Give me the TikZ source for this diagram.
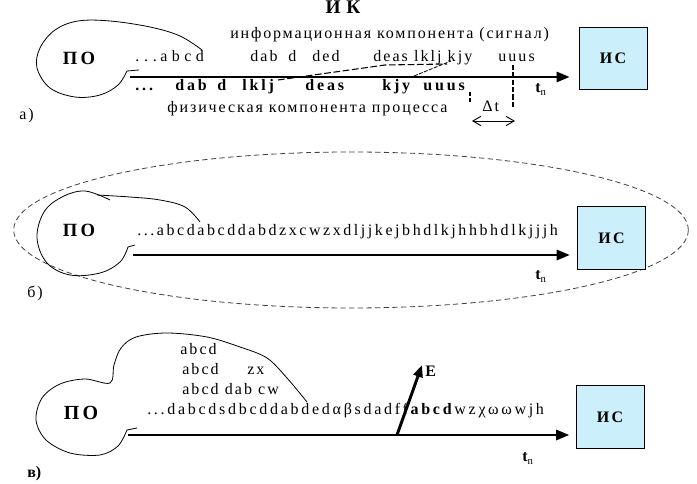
\documentclass[tikz,border=0pt]{standalone}
\usepackage{fontspec}
\setmainfont{Liberation Serif}
\usetikzlibrary{arrows.meta}
\begin{document}
\begin{tikzpicture}[x=0.75pt,y=-0.75pt,
  txt/.style={inner sep=0pt,anchor=base west,font=\fontsize{12}{14}\selectfont\addfontfeature{LetterSpace=13}},
  btxt/.style={inner sep=0pt,anchor=base west,font=\fontsize{12}{14}\bfseries\selectfont\addfontfeature{LetterSpace=18}},
  potxt/.style={inner sep=0pt,anchor=base,font=\fontsize{14}{16}\bfseries\selectfont\addfontfeature{LetterSpace=18}},
  lbl/.style={inner sep=0pt,anchor=base west,font=\fontsize{12}{14}\selectfont\addfontfeature{LetterSpace=12}},
  tn/.style={inner sep=0pt,anchor=base west,font=\fontsize{12}{14}\bfseries\selectfont},
  isbox/.style={draw=black,line width=0.75pt,fill=cyan!20,minimum width=51pt,minimum height=47pt,inner sep=0pt,
     font=\fontsize{12}{14}\bfseries\selectfont\addfontfeature{LetterSpace=15}},
  blob/.style={line width=0.6pt},
  axis/.style={line width=2.2pt,-{Triangle[length=10pt,width=7.5pt]}},
  mapline/.style={line width=0.8pt,dash pattern=on 5pt off 2pt},
  vdash/.style={line width=1.3pt,dash pattern=on 4pt off 1.5pt},
  dbl/.style={line width=0.7pt,{Straight Barb[length=6pt,width=7pt]}-{Straight Barb[length=6pt,width=7pt]}},
]
\useasboundingbox (0,0) rectangle (697,484);

% ================= a) =================
\node[potxt,font=\fontsize{14.5}{16}\bfseries\selectfont\addfontfeature{LetterSpace=30}] (IK) at (343,14) {ИК};
\node[txt,font=\fontsize{12}{14}\selectfont\addfontfeature{LetterSpace=11.5}] (info) at (230,39) {информационная компонента (сигнал)};
\node[potxt] (POa) at (79,65) {ПО};
\node[txt,font=\fontsize{12}{14}\selectfont\addfontfeature{LetterSpace=30}] (a0) at (135,62) {...};
\node[txt,font=\fontsize{12}{14}\selectfont\addfontfeature{LetterSpace=28}] (a1) at (160,62) {abcd};
\node[txt] (a2a) at (250,62) {dab};
\node[txt] (a2b) at (288,62) {d};
\node[txt] (a2c) at (312,62) {ded};
\node[txt] (a3) at (373,62) {deas lklj kjy};
\node[txt] (a4) at (498,62) {uuus};
\node[btxt] (b1) at (135,91) {...};
\node[btxt] (b2) at (175,91) {dab};
\node[btxt] (b3) at (217,91) {d};
\node[btxt] (b4) at (242,91) {lklj};
\node[btxt] (b5) at (305,91) {deas};
\node[btxt] (b6) at (382,91) {kjy};
\node[btxt] (b7) at (423,91) {uuus};
\node[txt,font=\fontsize{12}{14}\selectfont\addfontfeature{LetterSpace=12}] (phys) at (167,113) {физическая компонента процесса};
\node[tn] (tna) at (535,93) {t\raisebox{-0.35ex}{\fontsize{8}{9}\mdseries\selectfont n}};
\node[txt] (dt) at (482,112) {Δt};
\node[lbl] (la) at (19,120) {а)};
\node[isbox] (ISa) at (613,58.5) {ИС};

\draw[blob] plot[smooth,tension=0.6] coordinates {(139,70) (127,71)};
\draw[blob] plot[smooth,tension=0.6] coordinates {(127,71) (118,85) (100,95) (75,97) (50,88) (37,68) (40,48) (55,30) (78,21) (110,21) (150,27) (180,36) (202,50)};

\coordinate (sa) at (130,77);
\draw[axis,shorten >=6.5pt] (sa) -- (sa -| ISa.west);

\coordinate (m1) at (278,80);
\coordinate (m2) at (385,65);
\coordinate (m3) at (447,64);
\draw[mapline] (m1) -- (m2) -- (m3);
\coordinate (k1) at (414,76);
\coordinate (k2) at (451,61);
\draw[line width=0.6pt,dash pattern=on 3pt off 1pt] (k1) -- (k2);

\coordinate (v1) at (513,65);
\coordinate (v2) at (513,108);
\draw[vdash] (v1) -- (v2);
\coordinate (w1) at (470,92);
\coordinate (w2) at (470,104);
\draw[line width=1pt,dash pattern=on 3pt off 1.5pt] (w1) -- (w2);
\coordinate (d1) at (472,121);
\coordinate (d2) at (515,121);
\draw[dbl] (d1) -- (d2);

% ================= b) =================
\draw[line width=0.6pt,dash pattern=on 4pt off 2.5pt,black!75] (351,230) ellipse [x radius=253pt,y radius=58.5pt];
\node[potxt] (POb) at (79,237) {ПО};
\node[txt,font=\fontsize{12}{14}\selectfont\addfontfeature{LetterSpace=16}] (brow) at (137,236) {...abcdabcddabdzxcwzxdljjkejbhdlkjhhbhdlkjjjh};
\node[tn] (tnb) at (535,280) {t\raisebox{-0.35ex}{\fontsize{8}{9}\mdseries\selectfont n}};
\node[lbl] (lb) at (27,298) {б)};
\node[isbox] (ISb) at (611.5,238) {ИС};

\draw[blob] plot[smooth,tension=0.6] coordinates {(135,245) (128,247)};
\draw[blob] plot[smooth,tension=0.6] coordinates {(128,247) (120,262) (100,273) (70,275) (47,263) (37,238) (44,212) (62,197) (85,191) (110,200)};
\draw[blob] plot[smooth,tension=0.6] coordinates {(97,195) (130,197) (160,200) (185,207) (200,222)};

\coordinate (sb) at (133,255);
\draw[axis,shorten >=5.25pt] (sb) -- (sb -| ISb.west);

% ================= c) =================
\node[potxt,font=\fontsize{15}{17}\bfseries\selectfont\addfontfeature{LetterSpace=15}] (POc) at (81,420) {ПО};
\node[txt] (c1) at (180,355) {abcd};
\node[txt] (c2) at (182,375) {abcd};
\node[txt] (c3) at (247,375) {zx};
\node[txt] (c4) at (182,395) {abcd dab cw};
\node[txt,font=\fontsize{12}{14}\selectfont\addfontfeature{LetterSpace=17}] (crow) at (147,415) {...dabcdsdbcddabdedαβsdadff\textbf{abcd}wzχωωwjh};
\node[tn] (tnc) at (522,462) {t\raisebox{-0.35ex}{\fontsize{8}{9}\mdseries\selectfont n}};
\node[lbl,font=\fontsize{12}{14}\bfseries\selectfont] (lc) at (27,478) {в)};
\node[isbox] (ISc) at (610,417) {ИС};

\draw[blob] plot[smooth,tension=0.6] coordinates {(137,428) (127,430)};
\draw[blob] plot[smooth,tension=0.55] coordinates {(127,430) (118,446) (100,455) (70,453) (46,440) (36,420) (42,398) (60,384) (85,379) (110,383) (114,365) (121,348) (136,337) (167,333) (207,337) (240,347) (267,358) (287,378) (307,402)};

\coordinate (sc) at (128,435);
\draw[axis,shorten >=4.5pt] (sc) -- (sc -| ISc.west);

\coordinate (e0) at (397,435);
\coordinate (e1) at (422,365);
\draw[line width=2.2pt,-{Triangle[length=9pt,width=7pt]}] (e0) -- (e1);
\node[tn] (E) at (425,377) {E};
\end{tikzpicture}
\end{document}
